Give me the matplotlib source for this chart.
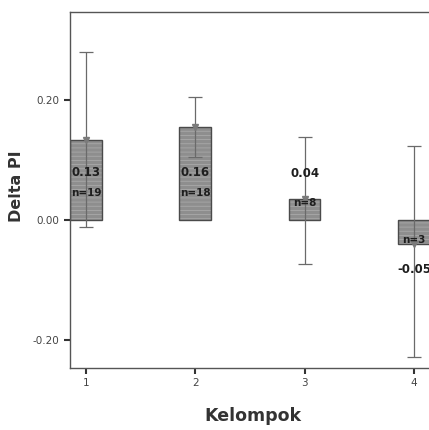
import matplotlib.pyplot as plt
import numpy as np

# group means, 95% CI ends, counts
groups = [1, 2, 3, 4]
means = [0.133, 0.155, 0.035, -0.04]
ci_low = [-0.012, 0.105, -0.073, -0.228]
ci_high = [0.28, 0.205, 0.138, 0.123]
mean_text = ['0.13', '0.16', '0.04', '-0.05']
n_text = ['n=19', 'n=18', 'n=8', 'n=3']

# where the two labels sit for each bar
mean_text_y = [0.08, 0.08, 0.077, -0.083]
n_text_y = [0.045, 0.045, 0.028, -0.033]

plt.rcParams['hatch.linewidth'] = 0.6

fig = plt.figure(figsize=(4.29, 4.30), dpi=100)
ax = fig.add_axes([0.163, 0.144, 0.853, 0.828])

x = np.array(groups)
m = np.array(means)
err = [m - np.array(ci_low), np.array(ci_high) - m]

# textured fill, then the outline on top
ax.bar(x, m, width=0.29, color='#8e8e8e', edgecolor='#a9a9a9', linewidth=0,
       hatch='----', zorder=2)
ax.bar(x, m, width=0.29, fill=False, edgecolor='#4a4a4a', linewidth=1.0,
       zorder=2)
ax.errorbar(x, m, yerr=err, fmt='none', ecolor='#6a6a6a', elinewidth=0.9,
            capsize=5, capthick=0.9, zorder=3)
ax.plot(x, m, 'v', color='#7a7a7a', markersize=4, zorder=4)

for xi, t, ty in zip(x, mean_text, mean_text_y):
    ax.text(xi, ty, t, ha='center', va='center', fontsize=8.5,
            fontweight='bold', color='#1e1e1e', zorder=5)
for xi, t, ty in zip(x, n_text, n_text_y):
    ax.text(xi, ty, t, ha='center', va='center', fontsize=7.5,
            fontweight='bold', color='#1e1e1e', zorder=5)

ax.set_xlim(0.854, 4.2)
ax.set_ylim(-0.247, 0.347)
ax.set_xticks(groups)
ax.set_yticks([-0.20, 0.00, 0.20])
ax.set_yticklabels(['-0.20', '0.00', '0.20'])
ax.tick_params(axis='both', labelsize=7.5, length=4, width=1.5,
               color='#333333', labelcolor='#444444')
for s in ['left', 'bottom', 'top']:
    ax.spines[s].set_color('#555555')
    ax.spines[s].set_linewidth(1.0)
ax.spines['right'].set_visible(False)

ax.set_ylabel('Delta PI', fontsize=11.5, fontweight='bold', color='#333333')
ax.yaxis.set_label_coords(-0.125, 0.51)
ax.set_xlabel('Kelompok', fontsize=12.5, fontweight='bold', color='#333333')
ax.xaxis.set_label_coords(0.5, -0.11)

plt.savefig('out.png', dpi=100)
